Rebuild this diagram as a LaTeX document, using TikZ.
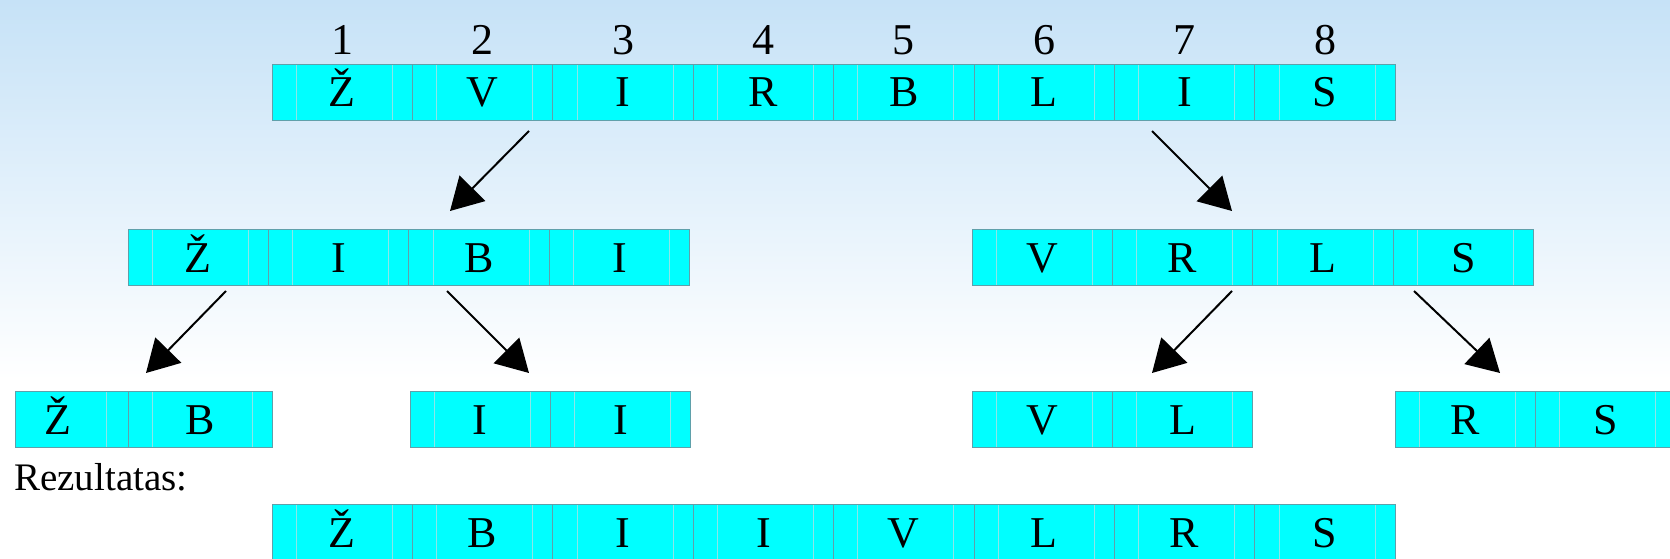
\documentclass[tikz,border=0pt]{standalone}
\usepackage{fontspec}
\setmainfont{Liberation Serif}
\usetikzlibrary{arrows.meta}
\definecolor{bgtop}{RGB}{198,226,247}
\definecolor{cellfill}{RGB}{0,255,255}
\definecolor{cellline}{RGB}{95,160,170}
\definecolor{faintline}{RGB}{140,230,232}
\tikzset{
  lettr/.style={anchor=base,inner sep=0pt,font=\fontsize{44}{48}\selectfont},
  numlbl/.style={anchor=base,inner sep=0pt,font=\fontsize{44}{48}\selectfont},
  arr/.style={line width=2pt,-{Triangle[length=32pt,width=36pt]}},
  boxline/.style={draw=cellline,line width=0.8pt},
  faint/.style={draw=faintline,line width=0.6pt}
}
% \cellrow{prefix}{x0}{ytop}{letters}
\newcommand{\cellrow}[4]{%
  \foreach \l [count=\i] in {#4}{%
    \pgfmathsetmacro{\xa}{#2+(\i-1)*140.4}%
    \fill[cellfill] (\xa,#3) rectangle ++(140.4,56);
    \draw[faint] (\xa+24,#3) -- ++(0,56) (\xa+120,#3) -- ++(0,56);
    \draw[boxline] (\xa,#3) rectangle ++(140.4,56);
    \node[lettr] (#1\i) at (\xa+70.2,#3+43) {\l};
  }%
}
\begin{document}
\begin{tikzpicture}[x=1pt,y=-1pt]
\useasboundingbox (0,0) rectangle (1670,559);
\shade[top color=bgtop,bottom color=white] (0,0) rectangle (1670,380);
\fill[white] (0,380) rectangle (1670,559);

% top row
\cellrow{t}{272}{64}{Ž,V,I,R,B,L,I,S}
\foreach \n [count=\i] in {1,...,8}{
  \node[numlbl] (n\i) at (272+70.2+\i*140.4-140.4,55) {\n};
}
% middle rows
\cellrow{ml}{128}{229}{Ž,I,B,I}
\cellrow{mr}{972}{229}{V,R,L,S}
% bottom rows
\fill[cellfill] (15,391) rectangle (272,447);
\draw[faint] (106,391) -- (106,447) (152,391) -- (152,447) (252,391) -- (252,447);
\draw[boxline] (15,391) rectangle (272,447);
\draw[boxline] (128,391) -- (128,447);
\node[lettr] (b1a) at (58,434) {Ž};
\node[lettr] (b1b) at (200,434) {B};
\cellrow{bb}{410}{391}{I,I}
\cellrow{bc}{972}{391}{V,L}
\cellrow{bd}{1395}{391}{R,S}
% result
\node[anchor=base west,inner sep=0pt,font=\fontsize{39}{43}\selectfont] (rez) at (14,490) {Rezultatas:};
\cellrow{r}{272}{504}{Ž,B,I,I,V,L,R,S}

% arrow endpoints
\coordinate (a1s) at (529,131); \coordinate (a1e) at (450,211);
\coordinate (a2s) at (1152,131); \coordinate (a2e) at (1232,211);
\coordinate (a3s) at (226,291); \coordinate (a3e) at (146,373);
\coordinate (a4s) at (447,291); \coordinate (a4e) at (529,373);
\coordinate (a5s) at (1232,291); \coordinate (a5e) at (1152,373);
\coordinate (a6s) at (1414,291); \coordinate (a6e) at (1500,373);
\foreach \k in {1,...,6}{\draw[arr] (a\k s) -- (a\k e);}
\end{tikzpicture}
\end{document}
